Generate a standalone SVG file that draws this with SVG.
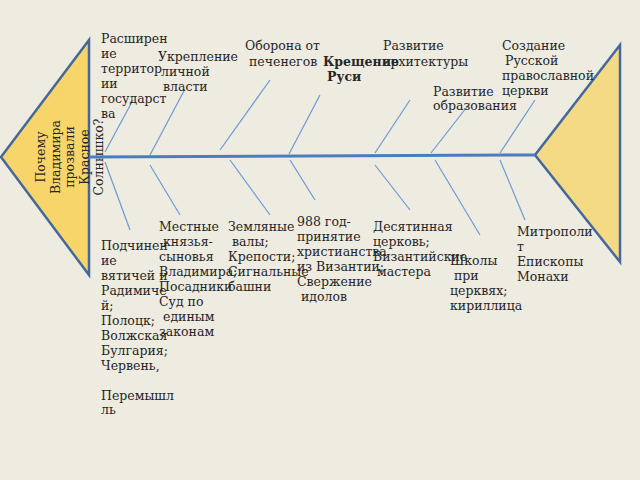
<svg xmlns="http://www.w3.org/2000/svg" width="640" height="480" viewBox="0 0 640 480">
<style>
  text { font-family: "DejaVu Serif", "Liberation Serif", serif; font-size: 12.5px; fill: #262626; }
  .b { font-weight: bold; }
  .tri { stroke: #44689c; stroke-width: 2.5; stroke-linejoin: miter; }
  .bone { stroke: #6b9ad6; stroke-width: 1.2; fill: none; }
  .spine { stroke: #4a7dbe; stroke-width: 3; fill: none; }
</style>
<rect width="640" height="480" fill="#eeebe1"/>
<g id="head-left">
  <polygon class="tri" points="89,40 1,157 89,275" fill="#f8d56a"/>
  <text transform="translate(45,157) rotate(-90)" text-anchor="middle">Почему</text>
  <text transform="translate(59.5,157) rotate(-90)" text-anchor="middle">Владимира</text>
  <text transform="translate(74,157) rotate(-90)" text-anchor="middle">прозвали</text>
  <text transform="translate(88.5,157) rotate(-90)" text-anchor="middle">Красное</text>
  <text transform="translate(103,157) rotate(-90)" text-anchor="middle">Солнышко?</text>
</g>
<g id="tail-right">
  <polygon class="tri" points="620,45 535,155 620,262" fill="#f5da85"/>
</g>
<g id="connectors">
  <line class="spine" x1="89" y1="157" x2="535" y2="155"/>
  <line class="bone" x1="105" y1="152" x2="133" y2="100"/>
  <line class="bone" x1="150" y1="155" x2="185" y2="89"/>
  <line class="bone" x1="220" y1="150" x2="270" y2="80"/>
  <line class="bone" x1="289" y1="154" x2="320" y2="95"/>
  <line class="bone" x1="375" y1="153" x2="410" y2="100"/>
  <line class="bone" x1="431" y1="153" x2="470" y2="103"/>
  <line class="bone" x1="500" y1="153" x2="535" y2="100"/>
  <line class="bone" x1="105" y1="162" x2="130" y2="230"/>
  <line class="bone" x1="150" y1="165" x2="180" y2="215"/>
  <line class="bone" x1="230" y1="160" x2="270" y2="215"/>
  <line class="bone" x1="290" y1="160" x2="315" y2="200"/>
  <line class="bone" x1="375" y1="165" x2="410" y2="210"/>
  <line class="bone" x1="435" y1="160" x2="480" y2="235"/>
  <line class="bone" x1="500" y1="160" x2="525" y2="220"/>
</g>
<g id="n-territory">
  <text x="101" y="42.5">Расширен</text>
  <text x="101" y="57.5">ие</text>
  <text x="101" y="72.5">территор</text>
  <text x="101" y="87.5">ии</text>
  <text x="101" y="102.5">государст</text>
  <text x="101" y="117.5">ва</text>
</g>
<g id="n-power">
  <text x="158" y="61">Укрепление</text>
  <text x="161" y="76">личной</text>
  <text x="163" y="91">власти</text>
</g>
<g id="n-defense">
  <text x="245" y="50">Оборона от</text>
  <text x="249" y="66">печенегов</text>
</g>
<g id="n-baptism">
  <text x="323" y="66" class="b">Крещение</text>
  <text x="327" y="81" class="b">Руси</text>
</g>
<g id="n-architecture">
  <text x="383" y="50">Развитие</text>
  <text x="383" y="66">архитектуры</text>
</g>
<g id="n-education">
  <text x="433" y="96">Развитие</text>
  <text x="433" y="110">образования</text>
</g>
<g id="n-church">
  <text x="502" y="50">Создание</text>
  <text x="505" y="65">Русской</text>
  <text x="502" y="80">православной</text>
  <text x="502" y="95">церкви</text>
</g>
<g id="d-territory">
  <text x="101" y="250">Подчинен</text>
  <text x="101" y="265">ие</text>
  <text x="101" y="280">вятичей и</text>
  <text x="101" y="295">Радимиче</text>
  <text x="101" y="310">й;</text>
  <text x="101" y="325">Полоцк;</text>
  <text x="101" y="340">Волжская</text>
  <text x="101" y="355">Булгария;</text>
  <text x="101" y="370">Червень,</text>
  <text x="101" y="400">Перемышл</text>
  <text x="101" y="414">ль</text>
</g>
<g id="d-power">
  <text x="159" y="231">Местные</text>
  <text x="163" y="246">князья-</text>
  <text x="159" y="261">сыновья</text>
  <text x="159" y="276">Владимира;</text>
  <text x="159" y="291">Посадники</text>
  <text x="159" y="306">Суд по</text>
  <text x="163" y="321">единым</text>
  <text x="159" y="336">законам</text>
</g>
<g id="d-defense">
  <text x="228" y="231">Земляные</text>
  <text x="232" y="246">валы;</text>
  <text x="228" y="261">Крепости;</text>
  <text x="228" y="276">Сигнальные</text>
  <text x="228" y="291">башни</text>
</g>
<g id="d-baptism">
  <text x="297" y="226">988 год-</text>
  <text x="297" y="241">принятие</text>
  <text x="297" y="256">христианства</text>
  <text x="297" y="271">из Византии;</text>
  <text x="297" y="286">Свержение</text>
  <text x="301" y="301">идолов</text>
</g>
<g id="d-architecture">
  <text x="373" y="231">Десятинная</text>
  <text x="373" y="246">церковь;</text>
  <text x="373" y="261">Византийские</text>
  <text x="377" y="276">мастера</text>
</g>
<g id="d-education">
  <text x="450" y="265">Школы</text>
  <text x="454" y="280">при</text>
  <text x="450" y="295">церквях;</text>
  <text x="450" y="310">кириллица</text>
</g>
<g id="d-church">
  <text x="517" y="236">Митрополи</text>
  <text x="517" y="251">т</text>
  <text x="517" y="266">Епископы</text>
  <text x="517" y="281">Монахи</text>
</g>
</svg>
